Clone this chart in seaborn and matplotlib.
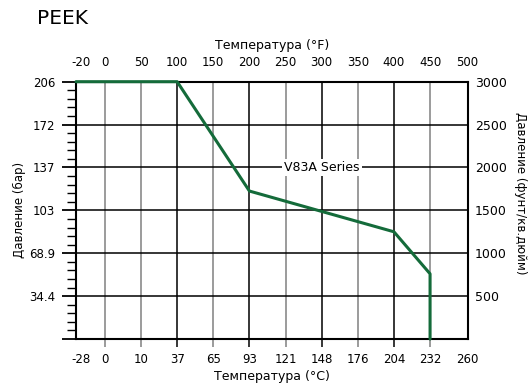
import matplotlib
matplotlib.use("Agg")
import matplotlib.pyplot as plt
import pandas as pd
import seaborn as sns

# PEEK pressure rating curve (temperature in °F, pressure in psi)
temp_f = [-40, 100, 200, 400, 450, 450]
pressure_psi = [3000, 3000, 1725, 1250, 760, 0]

# axis labelling
f_labels = ["-20", "0", "50", "100", "150", "200", "250", "300", "350", "400", "450", "500"]
c_labels = ["-28", "0", "10", "37", "65", "93", "121", "148", "176", "204", "232", "260"]
f_label_pos = [-33, 0, 50, 100, 150, 200, 250, 300, 350, 400, 450, 502]
psi_ticks = [0, 500, 1000, 1500, 2000, 2500, 3000]
psi_labels = ["", "500", "1000", "1500", "2000", "2500", "3000"]
bar_labels = ["", "34.4", "68.9", "103", "137", "172", "206"]
series_name = "V83A Series"

sns.set_style("white")
plt.rcParams["font.family"] = ["DejaVu Sans"]
plt.rcParams["text.color"] = "black"
plt.rcParams["xtick.color"] = "black"
plt.rcParams["ytick.color"] = "black"
plt.rcParams["axes.labelcolor"] = "black"

GREEN = "#146b3a"
GRAY = "#808080"

fig = plt.figure(figsize=(5.29, 3.84), dpi=100)
W, H = 529, 384
ax = fig.add_axes([76 / W, 1 - 339 / H, (468 - 76) / W, (339 - 81.7) / H])

df = pd.DataFrame({"temp": temp_f, "psi": pressure_psi})
sns.lineplot(data=df, x="temp", y="psi", ax=ax, sort=False, estimator=None,
             color=GREEN, lw=2.2, clip_on=False, zorder=5)

ax.set_xlim(-40, 502.5)
ax.set_ylim(0, 3000)

# grid: black every 100 °F, gray in between; black every 500 psi
ax.set_xticks([100, 200, 300, 400])
ax.set_xticks([0, 50, 150, 250, 350, 450], minor=True)
ax.set_yticks(psi_ticks)
ax.set_yticks(range(0, 3001, 100), minor=True)
ax.grid(which="major", axis="x", color="black", lw=1.1)
ax.grid(which="minor", axis="x", color=GRAY, lw=1.1)
ax.grid(which="major", axis="y", color="black", lw=1.1)
ax.set_axisbelow(True)

ax.tick_params(axis="x", which="major", direction="out", length=5.5, width=1.1,
               color="black", labelbottom=False, bottom=True)
ax.tick_params(axis="x", which="minor", direction="out", length=5.5, width=1.1,
               color=GRAY, bottom=True)
ax.tick_params(axis="y", which="major", direction="out", length=10, width=1.3,
               color="black", left=True, labelsize=8.5, pad=5)
ax.tick_params(axis="y", which="minor", direction="out", length=6.5, width=1.0,
               color="black", left=True)
ax.set_yticklabels(bar_labels)
for s in ax.spines.values():
    s.set_color("black")
    s.set_linewidth(1.5)

ax.set_xlabel("")
ax.set_ylabel("Давление (бар)", fontsize=8.5, labelpad=2)

# °F on top, °C on bottom
top = ax.secondary_xaxis("top")
top.set_xticks(f_label_pos)
top.set_xticklabels(f_labels)
top.tick_params(length=0, pad=9, labelsize=8.5)
top.set_xlabel("Температура (°F)", fontsize=9, labelpad=5)

bot = ax.secondary_xaxis("bottom")
bot.set_xticks(f_label_pos)
bot.set_xticklabels(c_labels)
bot.tick_params(length=0, pad=10, labelsize=8.5)
bot.set_xlabel("Температура (°C)", fontsize=9, labelpad=3)
bot.spines["bottom"].set_visible(False)
top.spines["top"].set_visible(False)

right = ax.secondary_yaxis("right")
right.set_yticks(psi_ticks)
right.set_yticklabels(psi_labels)
right.tick_params(length=0, pad=5, labelsize=9)
right.spines["right"].set_visible(False)

fig.text(520 / W, 1 - 193 / H, "Давление (фунт/кв.дюйм)", rotation=-90,
         ha="center", va="center", fontsize=8.5)

ax.text(300, 2000, series_name, ha="center", va="center", fontsize=9,
        bbox=dict(facecolor="white", edgecolor="none", pad=1.5), zorder=4)

fig.text(37 / W, 1 - 18 / H, "PEEK", ha="left", va="center", fontsize=14.5)

fig.savefig("out.png", dpi=100)
